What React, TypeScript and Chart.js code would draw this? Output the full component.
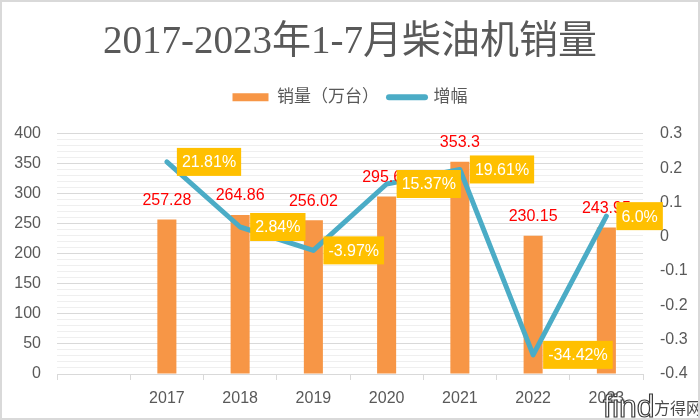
import React, { useEffect, useRef } from 'react';
import { Chart, registerables } from 'chart.js';

Chart.register(...registerables);

// Categories: a leading blank slot, then the years
const years = ['', '2017', '2018', '2019', '2020', '2021', '2022', '2023'];
// Diesel engine sales, Jan–Jul (10k units)
const sales: (number | null)[] = [null, 257.28, 264.86, 256.02, 295.62, 353.3, 230.15, 243.95];
// Year-on-year growth, as shown on the labels
const growthText: (string | null)[] = [null, '21.81%', '2.84%', '-3.97%', '15.37%', '19.61%', '-34.42%', '6.0%'];
const growth = growthText.map((t) => (t == null ? null : parseFloat(t) / 100));

const TITLE = '2017-2023年1-7月柴油机销量';
const SALES_NAME = '销量（万台）';
const GROWTH_NAME = '增幅';

const SANS = '"Liberation Sans", "Noto Sans CJK SC", sans-serif';
const SERIF = '"Liberation Serif", "Noto Sans CJK SC", serif';
const GREY_TEXT = '#595959';
const BAR_COLOR = '#F79646';
const LINE_COLOR = '#4BACC6';

const valueLabels = {
  id: 'valueLabels',
  afterDatasetsDraw(chart: any) {
    const ctx = chart.ctx;
    ctx.save();
    ctx.font = `16px ${SANS}`;
    ctx.textBaseline = 'middle';

    // red value labels above the bars
    ctx.fillStyle = '#FF0000';
    ctx.textAlign = 'center';
    chart.getDatasetMeta(0).data.forEach((bar: any, i: number) => {
      const v = sales[i];
      if (v == null) return;
      ctx.fillText(String(v), bar.x, bar.y - 19);
    });

    // yellow callouts to the right of the growth points
    ctx.textAlign = 'left';
    chart.getDatasetMeta(1).data.forEach((pt: any, i: number) => {
      const t = growthText[i];
      if (!t) return;
      const w = ctx.measureText(t).width + 10;
      const h = 28;
      const x = pt.x + 10;
      ctx.fillStyle = '#FFC000';
      ctx.fillRect(x, pt.y - h / 2, w, h);
      ctx.fillStyle = '#FFFFFF';
      ctx.fillText(t, x + 5, pt.y + 1);
    });
    ctx.restore();
  },
  afterDraw(chart: any) {
    const ctx = chart.ctx;
    ctx.save();
    // site mark in the corner
    ctx.textBaseline = 'alphabetic';
    ctx.textAlign = 'left';
    ctx.font = `32px ${SANS}`;
    ctx.lineWidth = 1.2;
    ctx.strokeStyle = '#3a3a3a';
    ctx.fillStyle = '#FFFFFF';
    ctx.fillText('find', 603, 417);
    ctx.strokeText('find', 603, 417);
    ctx.font = `16px ${SANS}`;
    ctx.fillStyle = '#4a4a4a';
    ctx.fillText('方得网', 654, 414);
    // frame
    ctx.strokeStyle = '#D9D9D9';
    ctx.lineWidth = 2;
    ctx.strokeRect(1, 1, chart.width - 2, chart.height - 2);
    ctx.restore();
  },
};

export default function App() {
  const ref = useRef<HTMLCanvasElement | null>(null);

  useEffect(() => {
    if (!ref.current) return;
    const chart = new Chart(ref.current, {
      type: 'bar',
      data: {
        labels: years,
        datasets: [
          {
            type: 'bar',
            label: SALES_NAME,
            data: sales,
            backgroundColor: BAR_COLOR,
            borderWidth: 0,
            barPercentage: 0.26,
            categoryPercentage: 1,
            pointStyle: 'rect',
            yAxisID: 'y',
            order: 2,
          } as any,
          {
            type: 'line',
            label: GROWTH_NAME,
            data: growth,
            borderColor: LINE_COLOR,
            backgroundColor: LINE_COLOR,
            borderWidth: 5,
            borderCapStyle: 'round',
            borderJoinStyle: 'round',
            pointRadius: 0,
            pointHoverRadius: 0,
            pointStyle: 'line',
            pointBorderColor: LINE_COLOR,
            pointBorderWidth: 5,
            tension: 0,
            yAxisID: 'y1',
            order: 1,
          } as any,
        ],
      },
      options: {
        responsive: false,
        animation: false,
        events: [],
        layout: { padding: 0 },
        plugins: {
          title: {
            display: true,
            text: TITLE,
            color: GREY_TEXT,
            font: { size: 39, family: SERIF, weight: 'normal', lineHeight: 1.2 },
            padding: { top: 19, bottom: 13 },
          },
          // empty spacer between the legend and the plot area
          subtitle: {
            display: true,
            text: '',
            weight: 500,
            font: { size: 1, lineHeight: 1 },
            padding: { top: 17, bottom: 0 },
          },
          legend: {
            display: true,
            position: 'top',
            labels: {
              color: GREY_TEXT,
              font: { size: 17, family: SANS },
              usePointStyle: true,
              pointStyleWidth: 36,
              boxHeight: 8,
              padding: 10,
              sort: (a: any, b: any) => a.datasetIndex - b.datasetIndex,
              generateLabels: (c: any) => {
                const items = (Chart.defaults.plugins.legend.labels as any).generateLabels(c);
                items.forEach((it: any) => {
                  if (it.pointStyle === 'line') {
                    it.lineCap = 'round';
                    it.lineWidth = 6;
                    it.strokeStyle = LINE_COLOR;
                  }
                });
                return items;
              },
            },
          },
          tooltip: { enabled: false },
        },
        scales: {
          x: {
            offset: true,
            grid: {
              display: true,
              drawOnChartArea: false,
              drawTicks: true,
              tickLength: 6,
              color: '#D9D9D9',
              offset: true,
            },
            border: { display: true, color: '#D9D9D9', width: 1 },
            ticks: {
              color: GREY_TEXT,
              font: { size: 16, family: SANS },
              padding: 9,
              maxRotation: 0,
              autoSkip: false,
            },
            afterFit: (s: any) => {
              s.height = 46;
            },
          },
          y: {
            position: 'left',
            min: 0,
            max: 400,
            ticks: {
              stepSize: 10,
              autoSkip: false,
              color: GREY_TEXT,
              font: { size: 16, family: SANS },
              padding: 16,
              callback: (v: any) => (Number(v) % 50 === 0 ? String(v) : ''),
            },
            grid: {
              drawTicks: false,
              color: (c: any) => (c.tick && c.tick.value % 50 === 0 ? '#D9D9D9' : '#EFEFEF'),
            },
            border: { display: false },
            afterFit: (s: any) => {
              s.width = 57;
            },
          },
          y1: {
            position: 'right',
            min: -0.4,
            max: 0.3,
            ticks: {
              stepSize: 0.1,
              color: GREY_TEXT,
              font: { size: 16, family: SANS },
              padding: 17,
              callback: (v: any) => (Math.abs(Number(v)) < 1e-9 ? '0' : Number(v).toFixed(1)),
            },
            grid: { drawOnChartArea: false, drawTicks: false },
            border: { display: false },
            afterFit: (s: any) => {
              s.width = 57;
            },
          },
        },
      } as any,
      plugins: [valueLabels],
    });
    return () => chart.destroy();
  }, []);

  return (
    <div style={{ position: 'fixed', left: 0, top: 0, width: 700, height: 420, background: '#FFFFFF' }}>
      <canvas ref={ref} width={700} height={420} style={{ display: 'block' }} />
    </div>
  );
}
